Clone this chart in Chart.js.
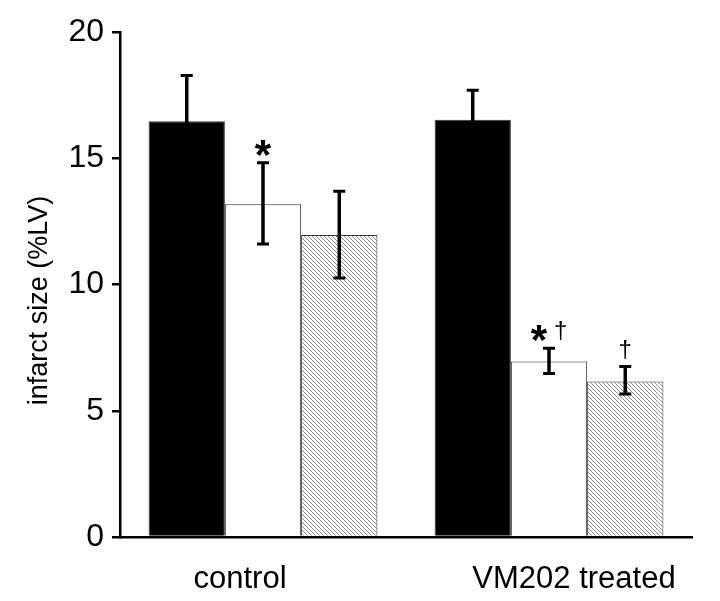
<!DOCTYPE html>
<html>
<head>
<meta charset="utf-8">
<script src="https://cdn.jsdelivr.net/npm/chart.js@4.4.0/dist/chart.umd.min.js"></script>
<style>
  body { margin: 0; background: #fff; }
  #wrap { width: 720px; height: 601px; }
</style>
</head>
<body>
<div id="wrap"><canvas id="chart" width="720" height="601"></canvas></div>
<script>
// groups on the x axis
const categories = ['control', 'VM202 treated'];

// bar heights (% of LV)
const blackValues = [16.47, 16.52];
const whiteValues = [13.18, 6.95];
const hatchValues = [11.96, 6.16];

// error bar ends
const blackHigh = [18.28, 17.69];
const blackLow = [14.66, 15.35];
const whiteHigh = [14.82, 7.48];
const whiteLow = [11.6, 6.48];
const hatchHigh = [13.69, 6.75];
const hatchLow = [10.26, 5.66];

// significance marks above the bars
const blackMarks = ['', ''];
const whiteMarks = ['*', '*†'];
const hatchMarks = ['', '†'];

const yTicks = [0, 5, 10, 15, 20];
const yTitle = 'infarct size (%LV)';

const FONT = '"Liberation Sans", Arial, sans-serif';

function makeHatch() {
    const c = document.createElement('canvas');
    c.width = 4;
    c.height = 4;
    const g = c.getContext('2d');
    g.fillStyle = '#ffffff';
    g.fillRect(0, 0, 4, 4);
    g.fillStyle = '#8a8a8a';
    for (let i = 0; i < 4; i++) g.fillRect(i, i, 1, 1);
    return g.createPattern(c, 'repeat');
}

const errorBars = {
    id: 'errorBars',
    afterDatasetsDraw(chart) {
        const ctx = chart.ctx;
        const y = chart.scales.y;
        chart.data.datasets.forEach((ds, i) => {
            const meta = chart.getDatasetMeta(i);
            meta.data.forEach((bar, j) => {
                const top = y.getPixelForValue(ds.errHigh[j]);
                const bot = y.getPixelForValue(ds.errLow[j]);
                ctx.save();
                ctx.strokeStyle = '#000';
                ctx.lineWidth = 3.5;
                ctx.beginPath();
                ctx.moveTo(bar.x, top);
                ctx.lineTo(bar.x, bot);
                ctx.stroke();
                ctx.lineWidth = 3;
                ctx.beginPath();
                ctx.moveTo(bar.x - 6, top);
                ctx.lineTo(bar.x + 6, top);
                ctx.moveTo(bar.x - 6, bot);
                ctx.lineTo(bar.x + 6, bot);
                ctx.stroke();

                const mark = ds.marks[j];
                if (mark) {
                    const parts = mark.split('').map(ch => ({
                        ch: ch,
                        font: ch === '*' ? 'bold 42px ' + FONT : '24px ' + FONT,
                        dy: ch === '*' ? 6 : -10
                    }));
                    const gap = 7;
                    let total = gap * (parts.length - 1);
                    parts.forEach(p => {
                        ctx.font = p.font;
                        p.w = ctx.measureText(p.ch).width;
                        total += p.w;
                    });
                    let x = bar.x - total / 2;
                    ctx.fillStyle = '#000';
                    ctx.textAlign = 'left';
                    ctx.textBaseline = 'alphabetic';
                    parts.forEach(p => {
                        ctx.font = p.font;
                        ctx.fillText(p.ch, x, top + p.dy);
                        x += p.w + gap;
                    });
                }
                ctx.restore();
            });
        });
    }
};

// axis texts placed the way the figure has them (group labels sit off-centre)
const axisText = {
    id: 'axisText',
    afterDraw(chart) {
        const ctx = chart.ctx;
        const area = chart.chartArea;
        const xs = chart.scales.x;
        const shift = [-23, 25];
        ctx.save();
        ctx.fillStyle = '#000';
        ctx.font = '31px ' + FONT;
        ctx.textAlign = 'center';
        ctx.textBaseline = 'alphabetic';
        categories.forEach((c, i) => {
            ctx.fillText(c, xs.getPixelForValue(i) + shift[i], area.bottom + 51);
        });
        ctx.translate(40, (area.top + area.bottom) / 2 + 16);
        ctx.rotate(-Math.PI / 2);
        ctx.font = '27px ' + FONT;
        ctx.textBaseline = 'middle';
        ctx.fillText(yTitle, 0, 0);
        ctx.restore();
    }
};

const hatch = makeHatch();

new Chart(document.getElementById('chart'), {
    type: 'bar',
    data: {
        labels: categories,
        datasets: [
            { data: blackValues, errHigh: blackHigh, errLow: blackLow, marks: blackMarks,
              backgroundColor: '#000', borderColor: '#333', borderWidth: 1 },
            { data: whiteValues, errHigh: whiteHigh, errLow: whiteLow, marks: whiteMarks,
              backgroundColor: '#fff', borderColor: '#333', borderWidth: 1 },
            { data: hatchValues, errHigh: hatchHigh, errLow: hatchLow, marks: hatchMarks,
              backgroundColor: hatch, borderColor: '#333', borderWidth: 1 }
        ]
    },
    options: {
        responsive: false,
        animation: false,
        devicePixelRatio: 1,
        layout: { padding: { left: 0, right: 28, top: 32, bottom: 0 } },
        plugins: {
            legend: { display: false },
            tooltip: { enabled: false }
        },
        datasets: {
            bar: { categoryPercentage: 0.8, barPercentage: 1.0 }
        },
        scales: {
            x: {
                grid: { display: false, drawTicks: false },
                border: { display: true, color: '#000', width: 2.5 },
                ticks: { display: false },
                afterFit: s => { s.height = 64; }
            },
            y: {
                min: 0,
                max: 20,
                afterBuildTicks: s => { s.ticks = yTicks.map(v => ({ value: v })); },
                grid: { drawOnChartArea: false, drawTicks: true, tickLength: 8, color: '#000', lineWidth: 2.5 },
                border: { display: true, color: '#000', width: 2.5 },
                ticks: {
                    color: '#000',
                    padding: 8,
                    font: { family: FONT, size: 32 }
                },
                afterFit: s => { s.width = 120; }
            }
        }
    },
    plugins: [errorBars, axisText]
});
</script>
</body>
</html>
